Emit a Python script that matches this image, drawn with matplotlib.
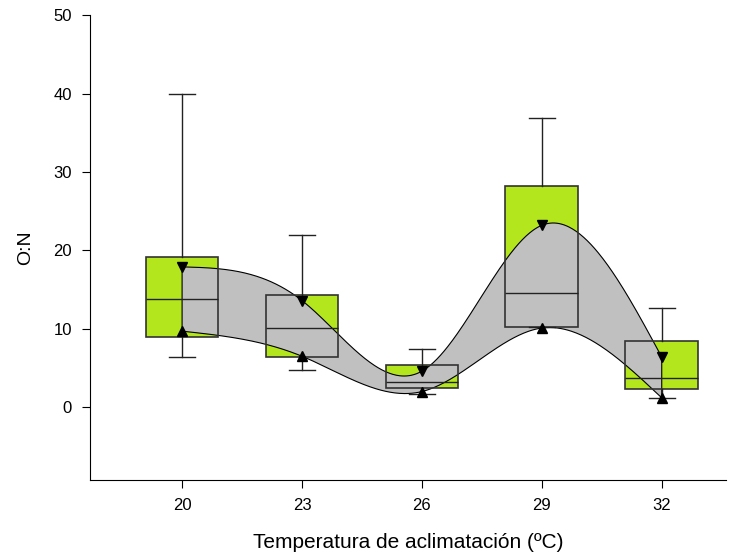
import numpy as np
import matplotlib.pyplot as plt

plt.rcParams['font.family'] = ['Liberation Sans', 'DejaVu Sans']

# datos
temps = [20, 23, 26, 29, 32]
q1 = [9.0, 6.4, 2.4, 10.2, 2.3]
med = [13.8, 10.1, 3.2, 14.6, 3.7]
q3 = [19.2, 14.3, 5.35, 28.2, 8.4]
wlo = [6.4, 4.7, 1.7, 10.2, 1.2]
whi = [40.0, 21.9, 7.4, 36.9, 12.6]
sup = [17.9, 13.6, 4.6, 23.2, 6.4]   # triangulos hacia abajo
inf = [9.7, 6.5, 2.0, 10.1, 1.2]     # triangulos hacia arriba

verde = '#b4e61e'
gris = '#c0c0c0'


def spline_natural(x, y, xs):
    x = np.asarray(x, float)
    y = np.asarray(y, float)
    n = len(x)
    h = np.diff(x)
    A = np.zeros((n, n))
    b = np.zeros(n)
    A[0, 0] = A[-1, -1] = 1
    for i in range(1, n - 1):
        A[i, i - 1] = h[i - 1]
        A[i, i] = 2 * (h[i - 1] + h[i])
        A[i, i + 1] = h[i]
        b[i] = 6 * ((y[i + 1] - y[i]) / h[i] - (y[i] - y[i - 1]) / h[i - 1])
    M = np.linalg.solve(A, b)
    k = np.clip(np.searchsorted(x, xs) - 1, 0, n - 2)
    t0 = x[k + 1] - xs
    t1 = xs - x[k]
    hk = h[k]
    return (M[k] * t0**3 / (6 * hk) + M[k + 1] * t1**3 / (6 * hk)
            + (y[k] / hk - M[k] * hk / 6) * t0
            + (y[k + 1] / hk - M[k + 1] * hk / 6) * t1)


stats = []
for i in range(len(temps)):
    stats.append(dict(med=med[i], q1=q1[i], q3=q3[i],
                      whislo=wlo[i], whishi=whi[i], fliers=[]))

fig, ax = plt.subplots(figsize=(7.39, 5.59), dpi=100)
fig.subplots_adjust(left=0.122, right=0.982, bottom=0.141, top=0.973)

# relleno verde de las cajas
ax.bxp(stats, positions=temps, widths=1.82, patch_artist=True,
       showcaps=False, boxprops=dict(facecolor=verde, edgecolor='none'),
       whiskerprops=dict(linewidth=0), medianprops=dict(linewidth=0),
       manage_ticks=False, zorder=1)

# banda gris entre las dos curvas
xs = np.linspace(temps[0], temps[-1], 400)
ys_sup = spline_natural(temps, sup, xs)
ys_inf = spline_natural(temps, inf, xs)
ax.fill_between(xs, ys_inf, ys_sup, facecolor=gris, edgecolor='none', zorder=2)
ax.plot(np.r_[xs, xs[::-1], xs[0]], np.r_[ys_sup, ys_inf[::-1], ys_sup[0]],
        color='black', lw=0.8, zorder=2.5)

# contornos, medianas y bigotes
ax.bxp(stats, positions=temps, widths=1.82, patch_artist=True,
       boxprops=dict(facecolor='none', edgecolor='#333333', linewidth=1.2),
       whiskerprops=dict(color='#222222', linewidth=1),
       capprops=dict(color='#222222', linewidth=1), capwidths=0.65,
       medianprops=dict(color='#222222', linewidth=1),
       manage_ticks=False, zorder=3)

ax.plot(temps, sup, 'v', color='black', ms=7, zorder=4)
ax.plot(temps, inf, '^', color='black', ms=7, zorder=4)

ax.set_xlim(17.7, 33.6)
ax.set_ylim(-9.3, 50)
ax.set_xticks(temps)
ax.set_yticks([0, 10, 20, 30, 40, 50])
ax.tick_params(labelsize=12, direction='out', length=6, pad=7)
ax.spines['top'].set_visible(False)
ax.spines['right'].set_visible(False)
ax.set_xlabel('Temperatura de aclimatación (ºC)', fontsize=15, labelpad=14)
ax.set_ylabel('O:N', fontsize=14, labelpad=14)

plt.savefig('out.png')
